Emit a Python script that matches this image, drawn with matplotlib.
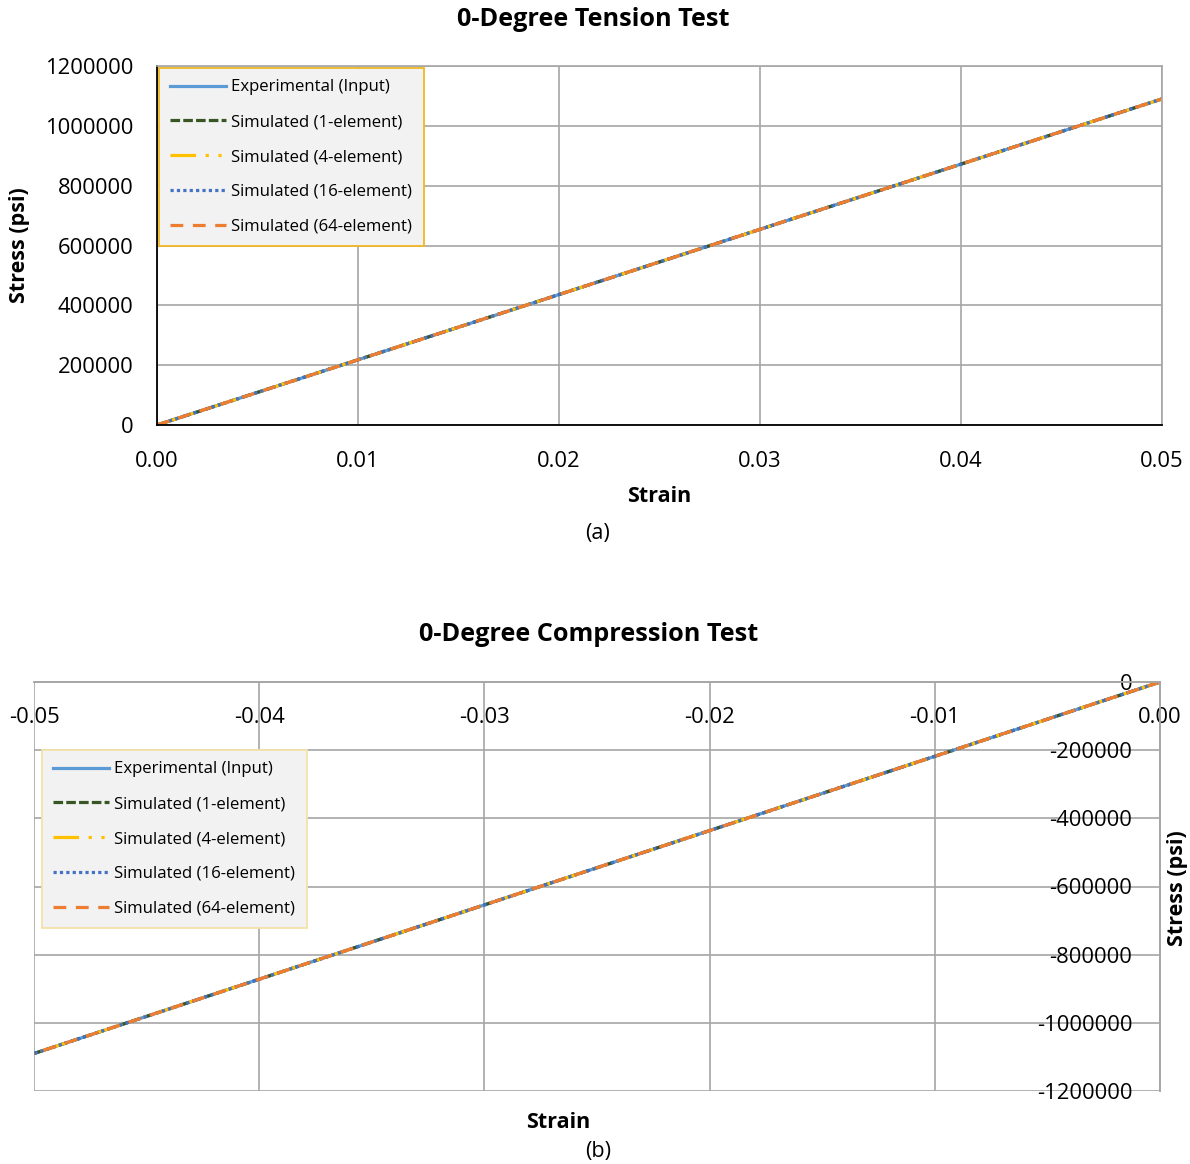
import matplotlib.pyplot as plt
from matplotlib.ticker import FormatStrFormatter, FuncFormatter, MultipleLocator

# ----------------------------
# Data (strain, stress in psi)
# ----------------------------
strain_t = [0.0, 0.01, 0.02, 0.03, 0.04, 0.05]
stress_t = [0, 218000, 436000, 654000, 872000, 1090000]

strain_c = [0.0, -0.01, -0.02, -0.03, -0.04, -0.05]
stress_c = [0, -218000, -436000, -654000, -872000, -1090000]

labels = [
    "Experimental (Input)",
    "Simulated (1-element)",
    "Simulated (4-element)",
    "Simulated (16-element)",
    "Simulated (64-element)",
]

# ----------------------------
# Styling
# ----------------------------
plt.rcParams["font.family"] = ["Open Sans", "DejaVu Sans"]

STYLES = [
    dict(color="#5b9bd5", linestyle="-"),
    dict(color="#375623", linestyle=(0, (3, 1))),
    dict(color="#ffc000", linestyle=(0, (8, 3, 1, 3, 1, 3))),
    dict(color="#4472c4", linestyle=(0, (1, 1))),
    dict(color="#ed7d31", linestyle=(0, (4, 3))),
]
LW = 2.3
GRID = "#a6a6a6"
TICK_FS = 15.8
LABEL_FS = 15.5
TITLE_FS = 18.2
LEG_FS = 12.1

W, H = 1190, 1164
fig = plt.figure(figsize=(W / 100, H / 100), dpi=100)

# strain labels without a "-0.00"
strain_fmt = FuncFormatter(lambda v, pos: f"{v:.2f}".replace("-0.00", "0.00"))


def axes_px(x0, y0, x1, y1):
    return fig.add_axes([x0 / W, 1 - y1 / H, (x1 - x0) / W, (y1 - y0) / H])


def draw_lines(ax, x, y):
    for lab, st in zip(labels, STYLES):
        ax.plot(x, y, lw=LW, label=lab, **st)


def add_legend(ax, edge):
    leg = ax.legend(loc="upper left", fontsize=LEG_FS, handlelength=3.3,
                    labelspacing=1.12, borderpad=0.7, handletextpad=0.3,
                    fancybox=False, framealpha=1, borderaxespad=0.1)
    leg.get_frame().set_facecolor("#f2f2f2")
    leg.get_frame().set_edgecolor(edge)
    leg.get_frame().set_linewidth(1.3)
    return leg


# ----------------------------
# (a) Tension
# ----------------------------
ax1 = axes_px(157, 66, 1162, 425)
draw_lines(ax1, strain_t, stress_t)
ax1.set_xlim(0, 0.05)
ax1.set_ylim(0, 1200000)
ax1.xaxis.set_major_locator(MultipleLocator(0.01))
ax1.yaxis.set_major_locator(MultipleLocator(200000))
ax1.xaxis.set_major_formatter(strain_fmt)
ax1.yaxis.set_major_formatter(FormatStrFormatter("%d"))
ax1.grid(True, color=GRID, lw=1.2)
ax1.set_axisbelow(True)
for s in ("top", "right"):
    ax1.spines[s].set_color(GRID)
    ax1.spines[s].set_linewidth(1.2)
for s in ("left", "bottom"):
    ax1.spines[s].set_color("black")
    ax1.spines[s].set_linewidth(1.3)
ax1.tick_params(length=0, labelsize=TICK_FS)
ax1.tick_params(axis="x", pad=19)
ax1.tick_params(axis="y", pad=17)
add_legend(ax1, "#f0b823")

fig.text(593 / W, 1 - 20 / H, "0-Degree Tension Test", ha="center", va="center",
         fontsize=TITLE_FS, fontweight="bold")
fig.text(659 / W, 1 - 496 / H, "Strain", ha="center", va="center",
         fontsize=LABEL_FS, fontweight="bold")
fig.text(20 / W, 1 - 245 / H, "Stress (psi)", ha="center", va="center",
         rotation=90, fontsize=LABEL_FS, fontweight="bold")
fig.text(598 / W, 1 - 534 / H, "(a)", ha="center", va="center", fontsize=LABEL_FS)

# ----------------------------
# (b) Compression: axes cross at the origin (top-right corner)
# ----------------------------
ax2 = axes_px(34, 682, 1160, 1091)
draw_lines(ax2, strain_c, stress_c)
ax2.set_xlim(-0.05, 0)
ax2.set_ylim(-1200000, 0)
ax2.xaxis.set_major_locator(MultipleLocator(0.01))
ax2.yaxis.set_major_locator(MultipleLocator(200000))
ax2.xaxis.set_major_formatter(strain_fmt)
ax2.yaxis.set_major_formatter(FormatStrFormatter("%d"))
ax2.grid(True, color=GRID, lw=1.2)
ax2.set_axisbelow(True)
ax2.spines["bottom"].set_position(("data", 0))
ax2.spines["left"].set_position(("data", 0))
for s in ax2.spines.values():
    s.set_color(GRID)
    s.set_linewidth(1.2)
ax2.tick_params(length=0, labelsize=TICK_FS)
ax2.tick_params(axis="x", pad=18)
ax2.tick_params(axis="y", pad=20)
leg2 = add_legend(ax2, "#f3e3a8")
leg2.set_bbox_to_anchor((6 / 1126, 1 - 66 / 409), transform=ax2.transAxes)

fig.text(589 / W, 1 - 635 / H, "0-Degree Compression Test", ha="center", va="center",
         fontsize=TITLE_FS, fontweight="bold")
fig.text(558 / W, 1 - 1122 / H, "Strain", ha="center", va="center",
         fontsize=LABEL_FS, fontweight="bold")
fig.text(1178 / W, 1 - 888 / H, "Stress (psi)", ha="center", va="center",
         rotation=90, fontsize=LABEL_FS, fontweight="bold")
fig.text(598 / W, 1 - 1152 / H, "(b)", ha="center", va="center", fontsize=LABEL_FS)

fig.savefig("out.png", dpi=100)
